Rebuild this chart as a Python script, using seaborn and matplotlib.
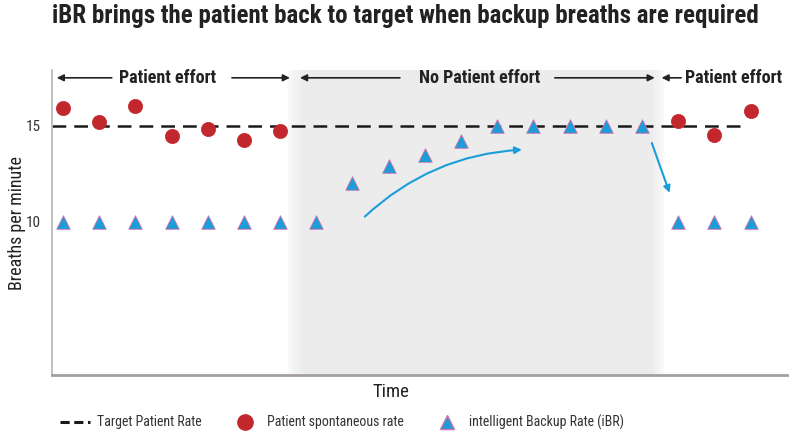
import numpy as np
import pandas as pd
import seaborn as sns
import matplotlib.pyplot as plt
from matplotlib.lines import Line2D

# data
breath_index = list(range(1, 21))
spont_index = [1, 2, 3, 4, 5, 6, 7, 18, 19, 20]
spont_rate = [15.95, 15.2, 16.05, 14.45, 14.85, 14.25, 14.75, 15.25, 14.5, 15.75]
ibr_rate = [10, 10, 10, 10, 10, 10, 10, 10, 12.0, 12.9, 13.5, 14.2,
            15, 15, 15, 15, 15, 10, 10, 10]
target_rate = 15
no_effort_span = (7.55, 17.3)

RED = "#c1272d"
BLUE = "#1b9dd9"
GREY = "#ececec"
INK = "#222222"

sns.set_style("white")
plt.rcParams["font.family"] = ["Roboto Condensed", "DejaVu Sans"]

df_spont = pd.DataFrame({"x": spont_index, "rate": spont_rate})
df_ibr = pd.DataFrame({"x": breath_index, "rate": ibr_rate})

fig = plt.figure(figsize=(7.89, 4.33), dpi=100)
ax = fig.add_axes([0.066, 0.134, 0.934, 0.704])

# shaded "no patient effort" zone, soft edges
x0, x1 = no_effort_span
for k, a in enumerate([0.3, 0.3, 0.3, 0.3, 1.0]):
    pad = 0.08 * (4 - k)
    ax.axvspan(x0 - pad, x1 + pad, color=GREY, alpha=a, lw=0, zorder=0)

ax.hlines(target_rate, 0.7, 19.85, colors="#1a1a1a", linestyles=(0, (5.5, 3.2)),
          lw=1.8, zorder=2)

sns.scatterplot(data=df_spont, x="x", y="rate", ax=ax, color=RED, s=105,
                marker="o", edgecolor=RED, linewidth=0.5, zorder=3)
sns.scatterplot(data=df_ibr, x="x", y="rate", ax=ax, color=BLUE, s=95,
                marker="^", edgecolor="#d86fa8", linewidth=0.6, zorder=3)

ax.set_xlim(0.7, 21.06)
ax.set_ylim(2.0, 17.9)
ax.set_xticks([])
ax.set_yticks([10, 15])
ax.tick_params(axis="y", length=0, labelsize=11, colors="#333333", pad=8)
for s in ["top", "right"]:
    ax.spines[s].set_visible(False)
ax.spines["left"].set_color("#b5b5b5")
ax.spines["left"].set_linewidth(1.2)
ax.spines["bottom"].set_color("#a59f9f")
ax.spines["bottom"].set_linewidth(2)

ax.set_ylabel("Breaths per minute", fontsize=13, color=INK)
ax.yaxis.set_label_coords(-0.047, 0.5, transform=ax.transAxes)
ax.yaxis.label.set_va("center")
ax.set_xlabel("Time", fontsize=13.5, color=INK)
ax.xaxis.set_label_coords(0.46, -0.025, transform=ax.transAxes)
ax.xaxis.label.set_va("top")

# phase labels with arrows
arr = dict(arrowstyle="-|>", color=INK, lw=1.2, mutation_scale=10,
           shrinkA=0, shrinkB=0)
ty = 17.5
ax.text(3.9, ty, "Patient effort", ha="center", va="center", fontsize=13,
        fontweight="bold", color=INK)
ax.annotate("", xy=(0.83, ty), xytext=(2.35, ty), arrowprops=arr)
ax.annotate("", xy=(7.27, ty), xytext=(5.67, ty), arrowprops=arr)
ax.text(12.5, ty, "No Patient effort", ha="center", va="center", fontsize=13,
        fontweight="bold", color=INK)
ax.annotate("", xy=(7.55, ty), xytext=(10.31, ty), arrowprops=arr)
ax.annotate("", xy=(17.35, ty), xytext=(14.59, ty), arrowprops=arr)
ax.text(18.2, ty, "Patient effort", ha="left", va="center", fontsize=13,
        fontweight="bold", color=INK)
ax.annotate("", xy=(17.54, ty), xytext=(18.08, ty), arrowprops=arr)

# blue guide arrows
blue_arr = dict(arrowstyle="-|>", color=BLUE, lw=1.5, mutation_scale=10,
                shrinkA=0, shrinkB=0)
ax.annotate("", xy=(13.68, 13.75), xytext=(9.34, 10.26),
            arrowprops=dict(blue_arr, connectionstyle="arc3,rad=-0.18"))
ax.annotate("", xy=(17.76, 11.5), xytext=(17.27, 14.1), arrowprops=blue_arr)

fig.text(0.066, 0.963, "iBR brings the patient back to target when backup breaths are required",
         fontsize=18, fontweight="bold", color=INK, ha="left", va="center")

handles = [
    Line2D([], [], color="#1a1a1a", ls=(0, (3, 1.5)), lw=2.2),
    Line2D([], [], marker="o", ls="", color=RED, markersize=11),
    Line2D([], [], marker="^", ls="", color=BLUE, markeredgecolor="#d86fa8",
           markersize=10),
]
labels = ["Target Patient Rate", "Patient spontaneous rate",
          "intelligent Backup Rate (iBR)"]
fig.legend(handles, labels, loc="center left", bbox_to_anchor=(0.06, 0.025),
           ncol=3, frameon=False, fontsize=10, handlelength=2.2,
           columnspacing=2.0, handletextpad=0.5, labelcolor="#333333")

fig.savefig("out.png", dpi=100)
